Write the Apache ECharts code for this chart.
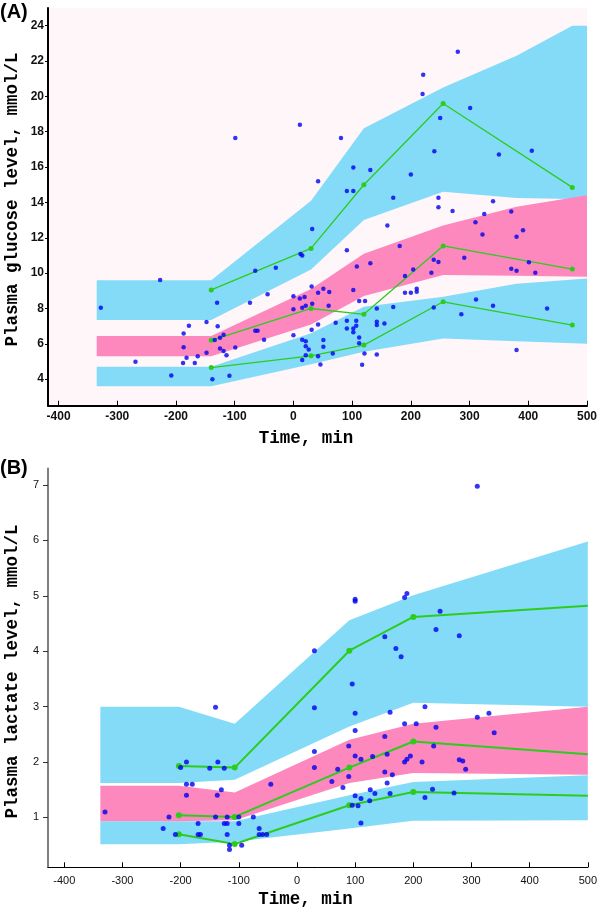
<!DOCTYPE html>
<html>
<head>
<meta charset="utf-8">
<script src="https://cdn.jsdelivr.net/npm/echarts@6/dist/echarts.min.js"></script>
<style>html,body{margin:0;padding:0;background:#fff}#c{width:600px;height:910px}</style>
</head>
<body>
<div id="c"></div>
<script>
// ---------- Panel A: plasma glucose ----------
// prediction-interval bands: [time, lower, upper]
const bandA_p95 = [[-335,7.35,9.6],[-140,7.35,9.6],[30,10.2,14.1],[120,13.0,18.2],[255,14.6,20.5],[380,14.25,22.3],[475,14.2,24.0],[500,14.1,24.0]];
const bandA_p50 = [[-335,5.3,6.45],[-140,5.3,6.45],[30,7.1,9.1],[120,8.7,11.1],[255,9.9,12.7],[380,9.85,13.75],[500,9.8,14.4]];
const bandA_p05 = [[-335,3.6,4.7],[-140,3.6,4.7],[30,4.85,6.6],[120,5.55,8.1],[255,6.3,8.66],[380,6.15,9.4],[500,6.0,9.7]];
// observed percentiles (green)
const timeA = [-140, 30, 120, 255, 475];
const p95A = [9.05, 11.4, 15.0, 19.6, 14.85];
const p50A = [6.2, 8.0, 7.67, 11.54, 10.23];
const p05A = [4.66, 5.32, 5.93, 8.38, 7.06];
// observations
const obsA = [
[-328,8.04],[-227,9.61],[-269,4.98],[-208,4.21],[-187,6.59],[-187,5.81],[-188,4.91],[-182,5.21],[-178,7.02],[-168,4.91],
[-163,5.30],[-148,7.23],[-148,5.49],[-138,4.0],[-134,6.21],[-130,8.32],[-129,7.0],[-125,5.74],[-125,6.34],[-119,6.51],
[-119,5.6],[-114,5.36],[-109,4.19],[-99,5.79],[-74,8.32],[-65,10.14],[-65,6.74],[-61,6.74],[-50,6.23],[-44,8.8],
[-30,10.31],[0,8.69],[0,7.95],[0,6.49],
[11,18.39],[-99,17.64],[42,15.2],[32,12.5],[12,11.08],[15,11.0],[31,9.25],[11,8.57],[19,8.65],[42,8.89],
[51,9.12],[61,8.93],[32,8.27],[21,8.15],[15,8.04],[60,8.15],[72,7.19],[42,7.1],[31,6.8],[15,6.23],
[21,6.15],[51,6.21],[51,5.83],[26,5.68],[21,5.87],[21,5.36],[42,5.3],[67,5.45],[15,5.08],[46,4.83],
[280,22.53],[221,21.22],[220,20.13],[301,19.34],[250,18.77],[81,17.65],[406,16.92],[240,16.9],[350,16.71],[102,15.97],
[131,15.84],[200,15.58],[91,14.65],[102,14.65],[170,14.27],[247,14.27],[247,13.73],[271,13.52],[340,14.07],[325,13.35],
[371,13.48],[310,12.88],[160,12.69],[391,12.42],[322,12.18],[380,12.06],[91,11.29],[181,11.54],[131,10.56],[108,10.37],
[291,10.87],[239,10.76],[247,10.63],[204,10.2],[190,9.84],[235,10.02],[371,10.25],[380,10.14],[401,10.61],[412,10.02],
[102,9.04],[112,8.42],[122,8.42],[190,8.89],[200,8.89],[210,9.12],[210,8.95],[170,8.08],[142,8.0],[91,7.3],
[107,7.3],[91,6.87],[107,7.02],[102,6.87],[102,6.65],[142,7.25],[142,7.06],[155,7.15],[112,6.36],[112,6.04],
[239,8.06],[286,7.67],[311,8.51],[340,8.15],[432,8.0],[380,5.65],[121,5.45],[117,4.81],[142,5.4]
];
const xTicksA = [-400,-300,-200,-100,0,100,200,300,400,500];
const yTicksA = [4,6,8,10,12,14,16,18,20,22,24];

// ---------- Panel B: plasma lactate ----------
const bandB_p95 = [[-338,1.62,3.0],[-203,1.62,3.0],[-107,1.68,2.69],[90,2.64,4.56],[200,3.07,5.01],[500,3.0,5.98]];
const bandB_p50 = [[-338,0.93,1.57],[-203,0.93,1.57],[-107,0.95,1.45],[90,1.62,2.40],[200,1.80,2.69],[500,1.77,3.0]];
const bandB_p05 = [[-338,0.515,0.93],[-203,0.515,0.93],[-107,0.56,0.93],[90,0.80,1.40],[200,0.94,1.64],[500,0.95,1.76]];
const timeB = [-203, -107, 90, 200, 500];
const p95B = [1.93, 1.9, 4.01, 4.62, 4.82];
const p50B = [1.04, 1.01, 1.9, 2.37, 2.14];
const p05B = [0.695, 0.52, 1.22, 1.46, 1.39];
const obsB = [
[-330,1.10],[-140,2.99],[-230,0.80],[-220,1.01],[-209,0.69],[-200,1.90],[-190,2.0],[-190,1.60],[-190,1.40],[-180,1.60],
[-170,0.89],[-170,0.69],[-166,0.69],[-150,1.89],[-140,1.01],[-136,2.0],[-137,1.40],[-130,1.50],[-125,1.89],[-125,0.89],
[-120,0.89],[-120,1.01],[-120,0.69],[-116,0.50],[-116,0.42],[-100,1.01],[-100,0.89],[-95,0.50],[-75,1.01],[-65,0.80],
[-65,0.69],[-59,0.69],[-52,0.69],[-45,1.60],
[30,4.01],[30,2.98],[30,2.19],[30,1.90],[60,1.65],[70,1.87],
[310,6.98],[100,4.94],[100,4.9],[185,4.97],[189,5.04],[246,4.72],[151,4.26],[239,4.39],[279,4.28],[170,4.05],
[179,3.90],[95,3.41],[100,2.88],[160,2.90],[220,3.0],[100,2.57],[310,2.81],[330,2.88],[339,2.53],[185,2.69],
[205,2.69],[239,2.63],[151,2.46],[89,2.29],[235,2.29],[100,2.11],[110,2.05],[130,2.10],[155,2.14],[185,2.0],
[189,2.05],[195,2.11],[215,2.0],[279,2.04],[285,2.02],[290,1.87],[79,1.54],[89,1.74],[151,1.82],[164,1.77],
[155,1.62],[126,1.50],[134,1.43],[160,1.43],[100,1.39],[110,1.34],[233,1.51],[270,1.44],[220,1.36],[125,1.30],
[95,1.22],[105,1.21],[110,0.90]
];
const xTicksB = [-400,-300,-200,-100,0,100,200,300,400,500];
const yTicksB = [1,2,3,4,5,6,7];

// ---------- styling ----------
const BLUE_BAND = '#84dbf8';
const PINK_BAND = '#fc88be';
const GREEN = '#2ccc1e';
const DOT = '#0000f0';
const MONO = '"Liberation Mono","Courier New",monospace';

function band(gi, data, color) {
  return {
    type: 'custom', xAxisIndex: gi, yAxisIndex: gi, silent: true, z: 1,
    data: data,
    encode: { x: 0, y: [1, 2] },
    renderItem: function (params, api) {
      if (params.dataIndexInside !== 0) return { type: 'group', children: [] };
      const n = params.dataInsideLength;
      const top = [], bot = [];
      for (let j = 0; j < n; j++) {
        const x = api.value(0, j);
        top.push(api.coord([x, api.value(2, j)]));
        bot.push(api.coord([x, api.value(1, j)]));
      }
      return { type: 'polygon', shape: { points: top.concat(bot.reverse()) }, style: { fill: color } };
    }
  };
}
function pctLine(gi, times, vals, width, size, lastMarker) {
  return {
    type: 'line', xAxisIndex: gi, yAxisIndex: gi, z: 3, silent: true,
    data: times.map((t, i) => (!lastMarker && i === times.length - 1)
      ? { value: [t, vals[i]], symbol: 'none' } : [t, vals[i]]),
    symbol: 'circle', symbolSize: size, showSymbol: true,
    lineStyle: { color: GREEN, width: width },
    itemStyle: { color: GREEN },
    animation: false
  };
}
function dots(gi, data, size) {
  return {
    type: 'scatter', xAxisIndex: gi, yAxisIndex: gi, z: 4, silent: true,
    data: data, symbol: 'circle', symbolSize: size,
    itemStyle: { color: DOT }, animation: false
  };
}

const chart = echarts.init(document.getElementById('c'), null, { renderer: 'canvas' });
chart.setOption({
  animation: false,
  backgroundColor: '#ffffff',
  grid: [
    { left: 48, top: 8, width: 541, height: 397.7, show: true, backgroundColor: '#fff6fa', borderWidth: 0 },
    { left: 48, top: 468.4, width: 541.3, height: 398.9, show: false }
  ],
  xAxis: [
    { gridIndex: 0, type: 'value', min: -418, max: 500,
      axisLine: { show: true, onZero: false, lineStyle: { color: '#000', width: 2 } },
      axisTick: { show: true, inside: true, length: 5, customValues: xTicksA, lineStyle: { color: '#000', width: 1 } },
      axisLabel: { customValues: xTicksA, margin: 5, color: '#111', fontSize: 12, fontWeight: 'bold', fontFamily: 'Liberation Sans, Arial' },
      splitLine: { show: false } },
    { gridIndex: 1, type: 'value', min: -428, max: 500,
      axisLine: { show: true, onZero: false, lineStyle: { color: '#000', width: 1 } },
      axisTick: { show: true, inside: true, length: 5, customValues: xTicksB, lineStyle: { color: '#000', width: 1 } },
      axisLabel: { customValues: xTicksB, margin: 8, color: '#111', fontSize: 11, fontFamily: 'Liberation Sans, Arial' },
      splitLine: { show: false } }
  ],
  yAxis: [
    { gridIndex: 0, type: 'value', min: 2.5, max: 25,
      axisLine: { show: true, onZero: false, lineStyle: { color: '#000', width: 2 } },
      axisTick: { show: true, inside: false, length: 3, customValues: yTicksA, lineStyle: { color: '#000', width: 1 } },
      axisLabel: { customValues: yTicksA, margin: 4, color: '#111', fontSize: 12, fontWeight: 'bold', fontFamily: 'Liberation Sans, Arial' },
      splitLine: { show: false } },
    { gridIndex: 1, type: 'value', min: 0.1, max: 7.3,
      axisLine: { show: true, onZero: false, lineStyle: { color: '#808080', width: 2 } },
      axisTick: { show: true, inside: false, length: 5, customValues: yTicksB, lineStyle: { color: '#333', width: 1 } },
      axisLabel: { customValues: yTicksB, margin: 9, color: '#111', fontSize: 11, fontFamily: 'Liberation Sans, Arial' },
      splitLine: { show: false } }
  ],
  series: [
    band(0, bandA_p95, BLUE_BAND),
    band(0, bandA_p05, BLUE_BAND),
    band(0, bandA_p50, PINK_BAND),
    pctLine(0, timeA, p95A, 1.3, 5, true),
    pctLine(0, timeA, p50A, 1.3, 5, true),
    pctLine(0, timeA, p05A, 1.3, 5, true),
    dots(0, obsA, 4.5),
    band(1, bandB_p95, BLUE_BAND),
    band(1, bandB_p05, BLUE_BAND),
    band(1, bandB_p50, PINK_BAND),
    pctLine(1, timeB, p95B, 2, 6, false),
    pctLine(1, timeB, p50B, 2, 6, false),
    pctLine(1, timeB, p05B, 2, 6, false),
    dots(1, obsB, 5)
  ],
  graphic: [
    { type: 'text', left: 0, top: 2, style: { text: '(A)', font: 'bold 20px "Liberation Sans", Arial', fill: '#000' } },
    { type: 'text', left: 0, top: 458, style: { text: '(B)', font: 'bold 20px "Liberation Sans", Arial', fill: '#000' } },
    { type: 'text', x: 13, y: 199.5, rotation: Math.PI / 2,
      style: { text: 'Plasma glucose level, mmol/L', font: 'bold 17.5px ' + MONO, fill: '#000', align: 'center', verticalAlign: 'middle' } },
    { type: 'text', x: 13, y: 671.5, rotation: Math.PI / 2,
      style: { text: 'Plasma lactate level, mmol/L', font: 'bold 17.5px ' + MONO, fill: '#000', align: 'center', verticalAlign: 'middle' } },
    { type: 'text', x: 306, y: 439,
      style: { text: 'Time, min', font: 'bold 17.5px ' + MONO, fill: '#000', align: 'center', verticalAlign: 'middle' } },
    { type: 'text', x: 305.5, y: 900,
      style: { text: 'Time, min', font: 'bold 17.5px ' + MONO, fill: '#000', align: 'center', verticalAlign: 'middle' } }
  ]
});
</script>
</body>
</html>
